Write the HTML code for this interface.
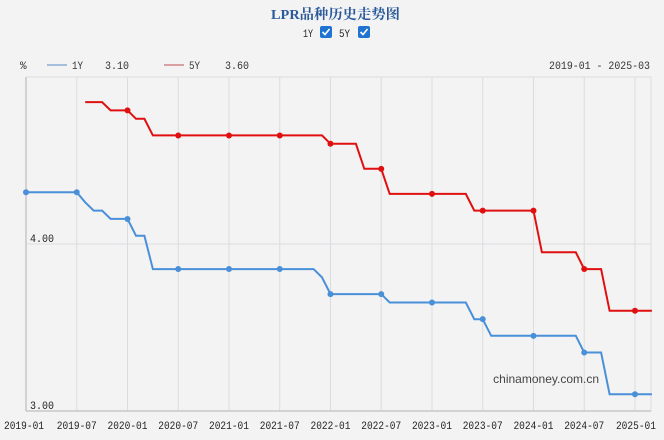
<!DOCTYPE html>
<html><head><meta charset="utf-8"><style>
body{margin:0;background:#f3f3f3;width:664px;height:440px;overflow:hidden;font-family:"Liberation Mono","Noto Sans CJK SC",monospace;}
</style></head><body>
<svg id="s" width="664" height="440" xmlns="http://www.w3.org/2000/svg" style="position:absolute;left:0;top:0">
<rect width="664" height="440" fill="#f3f3f3"/>
<text x="271" y="19" textLength="129" lengthAdjust="spacingAndGlyphs" font-family="'Liberation Serif','Noto Serif CJK SC',serif" font-weight="bold" font-size="14" fill="#2a5a9a">LPR品种历史走势图</text>
<text x="303" y="37" font-size="11" fill="#222" textLength="10" lengthAdjust="spacingAndGlyphs">1Y</text>
<rect x="320" y="26" width="12" height="12" rx="2" fill="#1e74d0"/><path d="M322.5 32l2.5 2.5 4.5-5.5" stroke="#fff" stroke-width="1.6" fill="none"/>
<text x="339" y="37" font-size="11" fill="#222" textLength="11" lengthAdjust="spacingAndGlyphs">5Y</text>
<rect x="358" y="26" width="12" height="12" rx="2" fill="#1e74d0"/><path d="M360.5 32l2.5 2.5 4.5-5.5" stroke="#fff" stroke-width="1.6" fill="none"/>
<text x="20" y="69" font-size="11" fill="#333">%</text>
<line x1="47" y1="65" x2="67" y2="65" stroke="#a5c0da" stroke-width="2"/>
<text x="72" y="69" font-size="11" fill="#333" textLength="11" lengthAdjust="spacingAndGlyphs">1Y</text>
<text x="105" y="69" font-size="11" fill="#333" textLength="24" lengthAdjust="spacingAndGlyphs">3.10</text>
<line x1="164" y1="65" x2="184" y2="65" stroke="#d8a0a0" stroke-width="2"/>
<text x="189" y="69" font-size="11" fill="#333" textLength="11" lengthAdjust="spacingAndGlyphs">5Y</text>
<text x="225" y="69" font-size="11" fill="#333" textLength="24" lengthAdjust="spacingAndGlyphs">3.60</text>
<text x="549" y="69" font-size="11" fill="#333" textLength="101" lengthAdjust="spacingAndGlyphs">2019-01 - 2025-03</text>
<g id="g"></g>
<text x="599" y="383" font-family="'Liberation Sans',sans-serif" font-size="12" fill="#444" text-anchor="end">chinamoney.com.cn</text>
</svg>
<script>
var g=document.getElementById('g'),h='';
function X(m){return 26+m*8.458;}function Y(v){return 244-(v-4)*167;}
var labs=['2019-01','2019-07','2020-01','2020-07','2021-01','2021-07','2022-01','2022-07','2023-01','2023-07','2024-01','2024-07','2025-01'];
for(var i=0;i<13;i++){var x=X(i*6);h+='<line x1="'+x+'" y1="77" x2="'+x+'" y2="411" stroke="#dcdce0"/>';
var lx=i==0?4:(i==12?X(72)-19:x-20);
h+='<text x="'+lx+'" y="429" font-size="11" fill="#222" textLength="40" lengthAdjust="spacingAndGlyphs">'+labs[i]+'</text>';}
h+='<line x1="26" y1="77" x2="651" y2="77" stroke="#dcdce0"/><line x1="651" y1="77" x2="651" y2="411" stroke="#dcdce0"/>';
h+='<line x1="26" y1="244" x2="651" y2="244" stroke="#dcdce0"/>';
h+='<line x1="26" y1="411" x2="651" y2="411" stroke="#c8c8c8" stroke-width="1.5"/>';
h+='<line x1="26" y1="77" x2="26" y2="411" stroke="#c8c8c8" stroke-width="1.5"/>';
h+='<text x="30" y="242" font-size="11" fill="#222" textLength="24" lengthAdjust="spacingAndGlyphs">4.00</text><text x="30" y="409" font-size="11" fill="#222" textLength="24" lengthAdjust="spacingAndGlyphs">3.00</text>';
function series(ch,start){var a=[],m=start;ch.forEach(function(c){for(var k=0;k<c[1];k++)a.push([m++,c[0]]);});return a;}
var one=series([[4.31,7],[4.25,1],[4.2,2],[4.15,3],[4.05,2],[3.85,20],[3.8,1],[3.7,7],[3.65,10],[3.55,2],[3.45,11],[3.35,3],[3.1,6]],0);
var five=series([[4.85,3],[4.8,3],[4.75,2],[4.65,21],[4.6,4],[4.45,3],[4.3,10],[4.2,8],[3.95,5],[3.85,3],[3.6,6]],7);
function draw(a,c){var p=a.map(function(d){return X(d[0]).toFixed(1)+','+Y(d[1]).toFixed(1);}).join(' ');
h+='<polyline points="'+p+'" fill="none" stroke="'+c+'" stroke-width="2"/>';
a.forEach(function(d){if(d[0]%6==0)h+='<circle cx="'+X(d[0])+'" cy="'+Y(d[1])+'" r="3" fill="'+c+'"/>';});}
draw(one,'#4a90d9');draw(five,'#e01010');
g.innerHTML=h;
</script>
</body></html>
